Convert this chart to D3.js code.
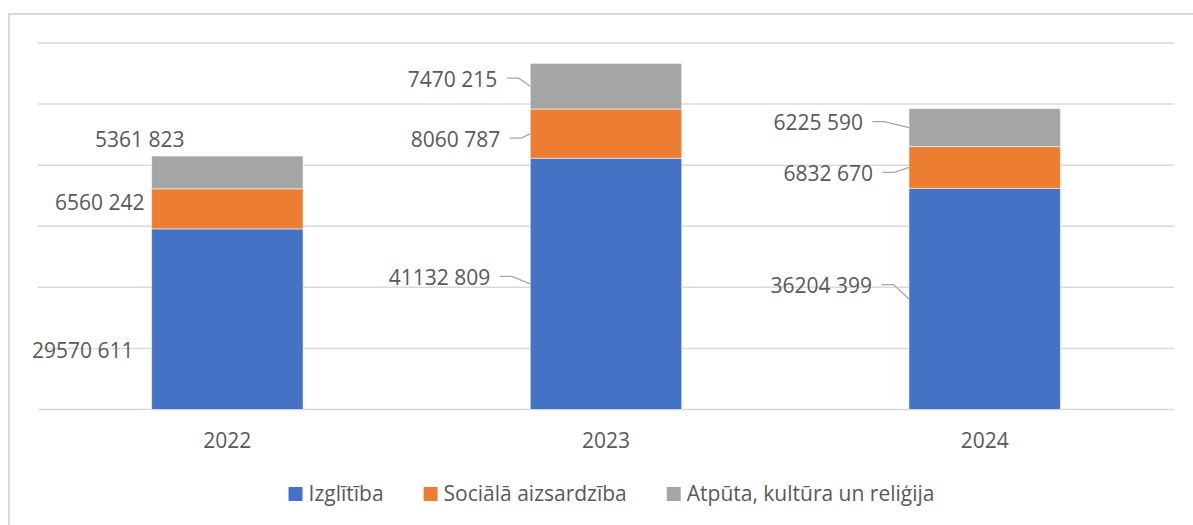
<!DOCTYPE html>
<html>
<head>
<meta charset="utf-8">
<script src="https://cdn.jsdelivr.net/npm/d3@7"></script>
<style>
  html, body { margin: 0; padding: 0; background: #fff; }
  svg { display: block; }
  text { font-family: "Open Sans", sans-serif; fill: #595959; }
</style>
</head>
<body>
<svg id="chart" width="1193" height="525"></svg>
<script>
// ---- data ----
const years = ["2022", "2023", "2024"];
const seriesNames = ["Izglītība", "Sociālā aizsardzība", "Atpūta, kultūra un reliģija"];
const izglitiba = [29570611, 41132809, 36204399];
const socialaAizsardziba = [6560242, 8060787, 6832670];
const atputa = [5361823, 7470215, 6225590];
const yTicks = [0, 10000000, 20000000, 30000000, 40000000, 50000000, 60000000];

// ---- layout / style (not data) ----
const W = 1193, H = 525;
const plot = { left: 38, right: 1174, top: 43, bottom: 409.5 };
const colors = ["#4472C4", "#ED7D31", "#A5A5A5"];
// label placement: [dx, dy] of the label's right end relative to the segment's left-edge midpoint, leader flag
const labelPlacement = [
  // Izglītība
  [[-18, 30.5, false], [-40, -6.7, true], [-37, -13.5, true]],
  // Sociālā aizsardzība
  [[-7, -6.5, false], [-30, 5.2, true], [-36, 5.6, true]],
  // Atpūta
  [[33, -33.6, false], [-33, -7.3, true], [-46, -5.2, true]]
];

const fmt = v => { const s = String(v); return s.slice(0, s.length - 3) + " " + s.slice(-3); };

const svg = d3.select("#chart");

// frame
svg.append("rect")
  .attr("x", 9).attr("y", 14).attr("width", W + 20).attr("height", H + 20)
  .attr("fill", "#fff").attr("stroke", "#d9d9d9").attr("stroke-width", 2);

const x = d3.scaleBand().domain(years).range([plot.left, plot.right])
  .paddingInner(0.6).paddingOuter(0.3);
const y = d3.scaleLinear().domain([0, 60000000]).range([plot.bottom, plot.top]);

// gridlines
svg.append("g").selectAll("line").data(yTicks).join("line")
  .attr("x1", plot.left).attr("x2", plot.right)
  .attr("y1", d => y(d)).attr("y2", d => y(d))
  .attr("stroke", "#d9d9d9").attr("stroke-width", 1.5);

// stack
const rows = years.map((yr, i) => ({ year: yr, s0: izglitiba[i], s1: socialaAizsardziba[i], s2: atputa[i] }));
const stack = d3.stack().keys(["s0", "s1", "s2"])(rows);

const gBars = svg.append("g");
stack.forEach((layer, si) => {
  gBars.selectAll(null).data(layer).join("rect")
    .attr("x", d => x(d.data.year))
    .attr("width", x.bandwidth())
    .attr("y", d => y(d[1]))
    .attr("height", d => y(d[0]) - y(d[1]))
    .attr("fill", colors[si])
    .attr("stroke", "#ffffff").attr("stroke-opacity", 0.55).attr("stroke-width", 1);
});

// labels
const gLab = svg.append("g");
stack.forEach((layer, si) => {
  layer.forEach((d, yi) => {
    const [dx, dy, leader] = labelPlacement[si][yi];
    const bx = x(d.data.year);
    const my = (y(d[0]) + y(d[1])) / 2;
    const tx = bx + dx, ty = my + dy;
    gLab.append("text")
      .attr("x", tx).attr("y", ty)
      .attr("text-anchor", "end").attr("dominant-baseline", "central")
      .attr("font-size", 21)
      .text(fmt(d[1] - d[0]));
    if (leader) {
      const sx = tx + 9.5, sy = ty - 0.8;
      gLab.append("path")
        .attr("d", d3.line()([[sx, sy], [sx + 12, sy], [bx, my]]))
        .attr("fill", "none").attr("stroke", "#a6a6a6").attr("stroke-width", 1.3);
    }
  });
});

// x axis labels
svg.append("g").selectAll("text").data(years).join("text")
  .attr("x", d => x(d) + x.bandwidth() / 2)
  .attr("y", 448)
  .attr("text-anchor", "middle")
  .attr("font-size", 21)
  .text(d => d);

// legend
const gLeg = svg.append("g");
const items = seriesNames.map((n, i) => {
  const g = gLeg.append("g");
  g.append("rect").attr("x", 0).attr("y", -14).attr("width", 14).attr("height", 14).attr("fill", colors[i]);
  const t = g.append("text").attr("x", 20).attr("y", 0).attr("font-size", 21).text(n);
  return { g, w: 20 + t.node().getComputedTextLength() };
});
const gap = 40;
const total = d3.sum(items, d => d.w) + gap * (items.length - 1);
let cx = 611.5 - total / 2;
items.forEach(it => { it.g.attr("transform", `translate(${cx},501)`); cx += it.w + gap; });
</script>
</body>
</html>
